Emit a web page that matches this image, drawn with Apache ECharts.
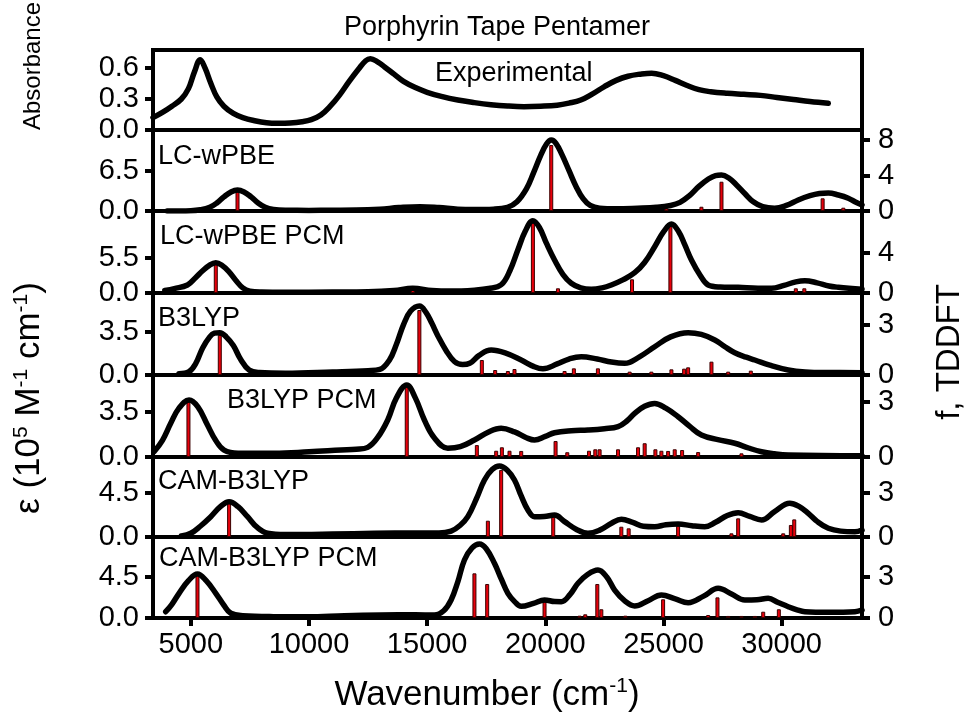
<!DOCTYPE html>
<html>
<head>
<meta charset="utf-8">
<script src="https://cdn.jsdelivr.net/npm/echarts@6/dist/echarts.min.js"></script>
<style>
  html, body { margin: 0; padding: 0; background: #fff; }
  #main { width: 971px; height: 725px; }
</style>
</head>
<body>
<div id="main"></div>
<script>
// ---- data ----
const xTicks = [5000, 10000, 15000, 20000, 25000, 30000];
const panelNames = ['Experimental', 'LC-wPBE', 'LC-wPBE PCM', 'B3LYP', 'B3LYP PCM', 'CAM-B3LYP', 'CAM-B3LYP PCM'];
const leftTicks = [[0, 0.3, 0.6], [0, 6.5], [0, 5.5], [0, 3.5], [0, 3.5], [0, 4.5], [0, 4.5]];
const rightTicks = [null, [0, 4, 8], [0, 4], [0, 3], [0, 3], [0, 3], [0, 3]];

// experimental absorbance
const expCurve = [[3400,0.12],[3800,0.17],[4200,0.23],[4600,0.3],[4900,0.4],[5150,0.56],[5400,0.68],[5600,0.6],[5850,0.45],[6100,0.32],[6400,0.23],[6800,0.16],[7200,0.12],[7700,0.09],[8200,0.07],[8700,0.065],[9200,0.068],[9700,0.08],[10100,0.1],[10500,0.145],[10900,0.23],[11300,0.34],[11700,0.47],[12100,0.59],[12400,0.67],[12600,0.69],[12900,0.66],[13200,0.61],[13600,0.54],[14000,0.47],[14500,0.41],[15000,0.365],[15600,0.325],[16300,0.29],[17000,0.265],[17700,0.245],[18400,0.232],[19100,0.226],[19800,0.23],[20500,0.24],[21000,0.26],[21500,0.29],[22000,0.35],[22500,0.42],[23000,0.48],[23500,0.52],[24000,0.54],[24500,0.55],[25000,0.525],[25500,0.48],[26000,0.43],[26500,0.39],[27000,0.37],[27700,0.355],[28400,0.345],[29100,0.335],[29800,0.315],[30500,0.295],[31200,0.275],[31974,0.258]];

// LC-wPBE
const lcCurve = [[4000,0],[5000,0.05],[5400,0.2],[5800,0.6],[6100,1.3],[6400,2.3],[6700,3.1],[6976,3.41],[7250,3.1],[7550,2.3],[7850,1.3],[8150,0.6],[8500,0.25],[9000,0.12],[10000,0.1],[11000,0.12],[12000,0.15],[13000,0.3],[13800,0.55],[14700,0.7],[15500,0.55],[16300,0.3],[17000,0.25],[17800,0.3],[18400,0.6],[18800,1.5],[19200,3.6],[19500,6.2],[19800,9.0],[20050,10.9],[20251,11.54],[20450,11.0],[20700,9.2],[21000,6.6],[21300,4.0],[21600,2.0],[21900,0.9],[22300,0.45],[23000,0.35],[23900,0.45],[24700,0.6],[25300,0.9],[25700,1.4],[26100,2.5],[26500,4.0],[26900,5.2],[27200,5.75],[27454,5.85],[27750,5.4],[28100,4.2],[28450,2.8],[28800,1.5],[29200,0.7],[29700,0.45],[30200,0.9],[30700,1.8],[31200,2.5],[31600,2.85],[31974,2.93],[32400,2.6],[32821,2.08],[33100,1.5],[33400,0.98]];
const lcSticks = [[6976,2.17],[20251,7.44],[25123,0.3],[26606,0.48],[27454,3.3],[31734,1.43],[32610,0.37]];

// LC-wPBE PCM
const lcPcmCurve = [[3900,0.4],[4300,0.7],[4858,1.26],[5200,2.4],[5500,3.5],[5800,4.4],[6057,4.76],[6300,4.4],[6600,3.4],[6900,2.0],[7200,0.8],[7500,0.3],[8000,0.15],[9000,0.12],[11000,0.15],[12500,0.2],[13600,0.4],[14391,0.74],[15200,0.4],[16000,0.3],[17000,0.45],[17600,0.7],[18132,1.3],[18500,3.5],[18840,6.8],[19150,9.7],[19475,11.37],[19750,10.3],[20050,7.8],[20391,5.19],[20750,2.9],[21098,1.53],[21500,0.8],[21945,0.58],[22400,0.8],[22793,1.26],[23300,2.1],[23781,3.19],[24200,4.8],[24627,7.28],[25000,9.6],[25336,10.85],[25650,9.6],[25900,7.6],[26183,5.19],[26550,2.8],[26890,1.26],[27400,0.95],[28161,0.9],[29000,0.75],[29572,0.74],[30100,1.2],[30600,1.75],[30983,1.93],[31500,1.6],[32000,1.1],[32397,0.9],[33400,0.58]];
const lcPcmSticks = [[6057,2.9],[14391,0.37],[19475,7.03],[20535,0.47],[23669,1.37],[25293,6.7],[30600,0.47],[30960,0.47]];

// B3LYP
const b3Curve = [[4500,0.1],[4926,0.27],[5200,0.9],[5500,2.2],[5800,3.1],[6000,3.4],[6226,3.44],[6500,3.1],[6800,2.4],[7100,1.3],[7468,0.4],[7900,0.2],[9000,0.15],[11000,0.25],[12500,0.35],[13000,0.45],[13400,1.2],[13700,2.5],[14000,4.1],[14300,5.2],[14671,5.61],[14950,5.1],[15200,4.2],[15450,3.2],[15800,2.0],[16154,1.1],[16500,0.85],[16800,0.95],[17200,1.6],[17709,2.03],[18300,1.8],[19000,1.2],[19500,0.7],[19900,0.5],[20500,0.9],[21000,1.3],[21522,1.49],[22200,1.3],[22800,1.05],[23357,0.95],[24000,1.5],[24627,2.3],[25300,3.1],[26043,3.44],[26600,3.3],[27171,2.85],[27600,2.3],[28017,1.81],[28500,1.45],[28864,1.22],[29500,0.8],[30280,0.41],[31000,0.25],[32000,0.2],[33400,0.19]];
const b3Sticks = [[6226,2.4],[14671,3.9],[17314,0.9],[17878,0.3],[18416,0.24],[18696,0.36],[20815,0.24],[21208,0.4],[22225,0.4],[23568,0.2],[24488,0.2],[25336,0.34],[25874,0.38],[26043,0.46],[27030,0.8],[27738,0.2],[28695,0.26]];

// B3LYP PCM
const b3PcmCurve = [[3443,0.41],[3800,1.3],[4150,2.62],[4500,3.8],[4926,4.43],[5300,3.9],[5705,2.49],[6050,1.3],[6409,0.54],[7000,0.3],[8527,0.29],[10000,0.4],[11353,0.54],[12000,0.6],[12485,0.75],[12900,1.5],[13332,2.88],[13700,4.6],[14137,5.6],[14500,4.6],[14883,2.88],[15300,1.5],[15874,0.68],[16400,0.8],[17001,1.32],[17600,1.95],[18132,2.23],[18700,1.95],[19200,1.5],[19543,1.32],[20000,1.6],[20391,1.89],[21100,2.05],[21806,2.1],[22500,2.2],[23077,2.36],[23450,2.8],[23781,3.4],[24200,3.95],[24627,4.17],[25100,3.8],[25619,3.13],[26100,2.4],[26606,1.71],[27300,1.35],[28017,1.07],[28600,0.7],[29149,0.41],[29700,0.25],[30280,0.16],[33400,0.1]];
const b3PcmSticks = [[4900,3.15],[14137,3.84],[17103,0.65],[17921,0.34],[18162,0.53],[18485,0.34],[18980,0.33],[20434,0.87],[20929,0.26],[21848,0.34],[22115,0.42],[22297,0.42],[23077,0.42],[23924,0.53],[24204,0.75],[24658,0.42],[24912,0.34],[25196,0.33],[25475,0.42],[25788,0.38],[26467,0.27],[28300,0.2]];

// CAM-B3LYP
const camCurve = [[4600,0.1],[4998,0.38],[5400,1.1],[5845,2.08],[6250,3.1],[6620,3.61],[7000,3.1],[7400,2.08],[7800,1.0],[8247,0.38],[9000,0.25],[11000,0.3],[12764,0.38],[14500,0.4],[15500,0.4],[16014,0.6],[16400,1.2],[16721,2.08],[17100,4.0],[17425,5.83],[17750,6.9],[18060,7.26],[18400,6.8],[18696,5.83],[18980,4.2],[19263,2.76],[19543,2.08],[19950,2.1],[20391,2.25],[20800,1.6],[21300,0.8],[21806,0.38],[22300,0.7],[22800,1.4],[23217,1.81],[23700,1.5],[24150,1.1],[24627,1.05],[25100,1.25],[25619,1.33],[26200,1.15],[26746,1.05],[27200,1.5],[27700,2.2],[28161,2.48],[28650,2.1],[29149,1.74],[29700,2.6],[30346,3.45],[30750,3.1],[31127,2.42],[31500,1.6],[31974,0.89],[32500,0.6],[33100,0.54],[33400,0.72]];
const camSticks = [[6620,2.41],[17569,1.11],[18132,4.57],[20335,1.43],[23217,0.7],[23527,0.59],[25619,0.77],[27876,0.25],[28161,1.27],[30067,0.25],[30390,0.82],[30533,1.2]];

// CAM-B3LYP PCM
const camPcmCurve = [[3938,0.69],[4200,1.5],[4502,2.71],[4900,4.1],[5282,4.83],[5650,4.1],[6057,2.71],[6400,1.4],[6693,0.52],[7200,0.25],[8500,0.15],[9942,0.14],[11500,0.25],[13048,0.33],[14500,0.35],[15306,0.33],[15700,0.8],[16014,1.98],[16300,4.0],[16577,6.37],[16900,7.7],[17213,8.12],[17500,7.6],[17848,6.0],[18150,4.2],[18416,2.71],[18700,1.8],[18980,1.28],[19500,1.6],[19967,1.98],[20400,1.8],[20675,1.79],[21050,2.6],[21382,3.81],[21800,4.8],[22229,5.27],[22600,4.5],[22934,3.07],[23350,1.9],[23781,1.32],[24350,1.9],[24912,2.52],[25500,2.1],[26043,1.68],[26700,2.4],[27314,3.26],[27900,2.6],[28441,1.98],[28950,2.0],[29431,2.16],[29850,1.7],[30280,1.24],[30650,0.9],[30983,0.69],[32000,0.62],[33100,0.69],[33400,0.88]];
const camPcmSticks = [[5282,3.22],[17001,3.27],[17540,2.49],[19967,1.2],[21450,0.17],[21691,0.27],[22200,2.49],[22370,0.64],[23387,0.17],[24984,1.37],[26890,0.22],[27284,1.51],[27738,0.15],[28300,0.15],[28866,0.15],[29220,0.46],[29882,0.64]];

const curves = [expCurve, lcCurve, lcPcmCurve, b3Curve, b3PcmCurve, camCurve, camPcmCurve];
const sticks = [null, lcSticks, lcPcmSticks, b3Sticks, b3PcmSticks, camSticks, camPcmSticks];

// ---- layout ----
const FONT = 'Liberation Sans, Arial, sans-serif';
const edges = [50, 130, 211, 293, 375, 457, 537, 618];
const leftMax = [0.774, 13.17, 12.9, 6.67, 6.38, 8.18, 8.89];
const rightMax = [null, 9.13, 8.2, 4.92, 4.47, 5.45, 5.93];
const labelPos = [[435, 74], [158, 157], [160, 237], [158, 319], [227, 401], [158, 482], [159, 559]];

const chart = echarts.init(document.getElementById('main'));

const grid = [], xAxis = [], yAxis = [], series = [];
for (let i = 0; i < 7; i++) {
  grid.push({
    left: 153, width: 709, top: edges[i], height: edges[i + 1] - edges[i],
    show: true, borderColor: '#000', borderWidth: 4, backgroundColor: 'transparent'
  });
  const last = i === 6;
  xAxis.push({
    type: 'value', gridIndex: i, min: 3400, max: 33400,
    axisLine: { show: false },
    splitLine: { show: false },
    axisTick: { show: last, customValues: xTicks, length: 8, lineStyle: { color: '#000', width: 4 } },
    axisLabel: { show: last, customValues: xTicks, formatter: v => String(v), color: '#000', fontSize: 29, fontFamily: FONT, margin: 12 }
  });
  yAxis.push({
    type: 'value', gridIndex: i, position: 'left', min: 0, max: leftMax[i],
    axisLine: { show: false },
    splitLine: { show: false },
    axisTick: { customValues: leftTicks[i], length: 8, lineStyle: { color: '#000', width: 4 } },
    axisLabel: { customValues: leftTicks[i], formatter: v => v.toFixed(1), color: '#000', fontSize: 29, fontFamily: FONT, margin: 14 }
  });
  series.push({
    type: 'line', xAxisIndex: i, yAxisIndex: yAxis.length - 1,
    data: curves[i], smooth: 0.4, showSymbol: false, symbol: 'none',
    lineStyle: { color: '#000', width: 5.5, join: 'round', cap: 'round' },
    z: 5, silent: true
  });
  if (rightTicks[i]) {
    yAxis.push({
      type: 'value', gridIndex: i, position: 'right', min: 0, max: rightMax[i],
      axisLine: { show: false },
      splitLine: { show: false },
      axisTick: { customValues: rightTicks[i], length: 8, lineStyle: { color: '#000', width: 4 } },
      axisLabel: { customValues: rightTicks[i], formatter: v => String(v), color: '#000', fontSize: 29, fontFamily: FONT, margin: 16 }
    });
    series.push({
      type: 'bar', xAxisIndex: i, yAxisIndex: yAxis.length - 1,
      data: sticks[i], barWidth: 4, barGap: '-100%',
      itemStyle: { color: '#e8000b', borderColor: '#3a0000', borderWidth: 1 },
      z: 3, silent: true
    });
  }
}

const graphic = [
  { type: 'text', x: 497, y: 28, style: { text: 'Porphyrin Tape Pentamer', font: '27px ' + FONT, fill: '#000', align: 'center', verticalAlign: 'middle' } },
  { type: 'text', x: 33, y: 66, rotation: Math.PI / 2, style: { text: 'Absorbance', font: '24px ' + FONT, fill: '#000', align: 'center', verticalAlign: 'middle' } },
  { type: 'text', x: 29, y: 398, rotation: Math.PI / 2, style: {
      text: 'ε (10{s|5} M{s|-1} cm{s|-1})', font: '35px ' + FONT, fill: '#000', align: 'center', verticalAlign: 'middle',
      rich: { s: { fontSize: 21, fontFamily: FONT, verticalAlign: 'top', padding: [0, 0, 16, 0] } } } },
  { type: 'text', x: 950, y: 352, rotation: Math.PI / 2, style: { text: 'f, TDDFT', font: '33px ' + FONT, fill: '#000', align: 'center', verticalAlign: 'middle' } },
  { type: 'text', x: 487, y: 695, style: {
      text: 'Wavenumber (cm{s|-1})', font: '35px ' + FONT, fill: '#000', align: 'center', verticalAlign: 'middle',
      rich: { s: { fontSize: 21, fontFamily: FONT, verticalAlign: 'top', padding: [0, 0, 18, 0] } } } }
];
panelNames.forEach((name, i) => {
  graphic.push({ type: 'text', x: labelPos[i][0], y: labelPos[i][1], z: 10,
    style: { text: name, font: '27px ' + FONT, fill: '#000', align: 'left', verticalAlign: 'middle' } });
});

chart.setOption({
  animation: false,
  backgroundColor: '#fff',
  grid, xAxis, yAxis, series, graphic
});
</script>
</body>
</html>
